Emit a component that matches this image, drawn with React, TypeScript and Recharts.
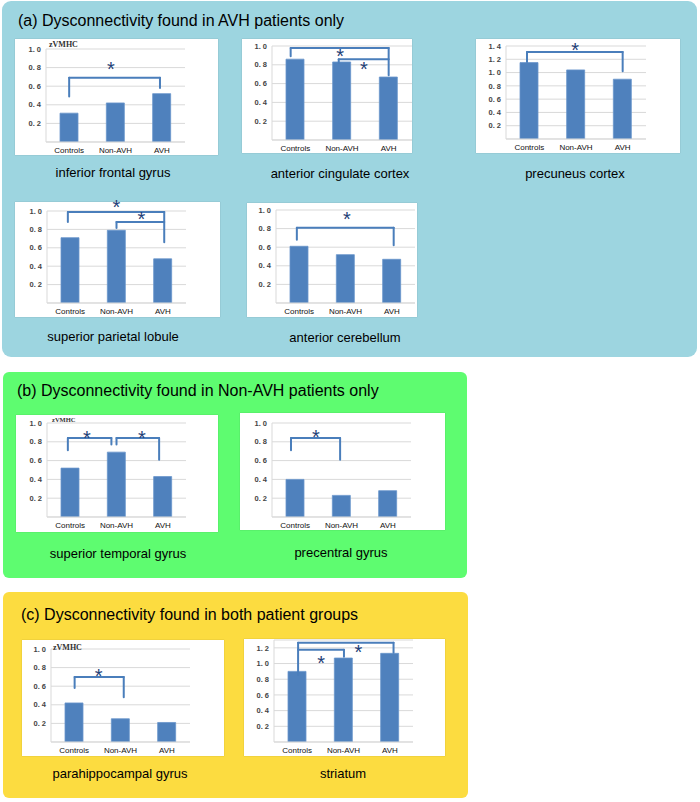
import React from 'react';
import { BarChart, Bar, XAxis, YAxis, CartesianGrid, ReferenceLine, ReferenceDot } from 'recharts';

const GROUPS = ['Controls', 'Non-AVH', 'AVH'];
const GROUP_INDEX = [0, 1, 2];
const TICKS_10 = [0.2, 0.4, 0.6, 0.8, 1.0];
const TICKS_12 = [0.2, 0.4, 0.6, 0.8, 1.0, 1.2];
const TICKS_14 = [0.2, 0.4, 0.6, 0.8, 1.0, 1.2, 1.4];

// values: Controls, Non-AVH, AVH
const ifgValues = [0.31, 0.42, 0.52];
const accValues = [0.86, 0.83, 0.67];
const precuneusValues = [1.15, 1.04, 0.9];
const splValues = [0.71, 0.79, 0.48];
const cerebellumValues = [0.61, 0.52, 0.47];
const stgValues = [0.52, 0.69, 0.43];
const precentralValues = [0.4, 0.23, 0.28];
const parahippoValues = [0.42, 0.25, 0.21];
const striatumValues = [0.9, 1.07, 1.13];

// significance brackets (x in group index units, y in zVMHC units)
const ifgBrackets = [{ y: 0.69, x1: 0, x2: 1.96, leg1: 0.49, leg2: 0.58 }];
const ifgStars = [{ x: 0.9, y: 0.83 }];
const accBrackets = [
  { y: 0.98, x1: -0.1, x2: 2, leg1: 0.89, leg2: 0.69 },
  { y: 0.86, x1: 0.93, x2: 2, leg1: 0.82 },
];
const accStars = [{ x: 0.96, y: 0.94 }, { x: 1.47, y: 0.8 }];
const precuneusBrackets = [{ y: 1.31, x1: -0.05, x2: 2.0, leg1: 1.16, leg2: 1.02 }];
const precuneusStars = [{ x: 0.98, y: 1.415 }];
const splBrackets = [
  { y: 0.99, x1: -0.05, x2: 2.03, leg1: 0.88, leg2: 0.66 },
  { y: 0.88, x1: 1.0, x2: 2.03, leg1: 0.815 },
];
const splStars = [{ x: 1.0, y: 1.09 }, { x: 1.54, y: 0.96 }];
const cerebellumBrackets = [{ y: 0.81, x1: -0.05, x2: 2.04, leg1: 0.68, leg2: 0.62 }];
const cerebellumStars = [{ x: 1.03, y: 0.95 }];
const stgBrackets = [
  { y: 0.84, x1: -0.05, x2: 0.89, leg1: 0.71, leg2: 0.77 },
  { y: 0.84, x1: 1.0, x2: 1.92, leg1: 0.77, leg2: 0.61 },
];
const stgStars = [{ x: 0.36, y: 0.89 }, { x: 1.55, y: 0.89 }];
const precentralBrackets = [{ y: 0.84, x1: -0.09, x2: 0.97, leg1: 0.71, leg2: 0.61 }];
const precentralStars = [{ x: 0.45, y: 0.9 }];
const parahippoBrackets = [{ y: 0.7, x1: 0.01, x2: 1.07, leg1: 0.58, leg2: 0.48 }];
const parahippoStars = [{ x: 0.53, y: 0.76 }];
const striatumBrackets = [
  { y: 1.264, x1: 0.02, x2: 2.08, leg1: 0.855, leg2: 1.137 },
  { y: 1.175, x1: 0.02, x2: 1.01, leg2: 1.085 },
];
const striatumStars = [{ x: 1.32, y: 1.2 }, { x: 0.52, y: 1.07 }];

const FONT = '"Liberation Sans", Arial, Helvetica, sans-serif';
const BAR = '#4f81bd';
const BRACKET = '#4a7ebb';
const STAR = '#1f3f77';
const GRID = '#d9d9d9';

const fmt = (v: number) => v.toFixed(1).replace('.', '. ');

type Bracket = { y: number; x1: number; x2: number; leg1?: number; leg2?: number };
type Star = { x: number; y: number };

function MiniChart(props: {
  values: number[];
  box: [number, number, number, number];
  plotL: number;
  plotR: number;
  top: number;
  base: number;
  domainMax: number;
  ticks: number[];
  brackets: Bracket[];
  stars: Star[];
  zLabel?: { x: number; y: number; size: number };
}) {
  const { values, box, plotL, plotR, top, base, domainMax, ticks, brackets, stars, zLabel } = props;
  const [bx, by, bw, bh] = box;
  const data = GROUPS.map((g, i) => ({ group: g, idx: GROUP_INDEX[i], value: values[i] }));
  const lineProps = {
    xAxisId: 'n',
    stroke: BRACKET,
    strokeWidth: 2,
    strokeLinecap: 'round' as const,
    ifOverflow: 'visible' as const,
  };
  return (
    <div
      style={{
        position: 'absolute',
        left: bx,
        top: by,
        width: bw,
        height: bh,
        background: '#fff',
        boxShadow: '0 0 1px rgba(0,0,0,0.25)',
      }}
    >
      <BarChart
        width={bw}
        height={bh}
        data={data}
        margin={{ top: top - by, right: bx + bw - plotR, bottom: 0, left: 0 }}
        barCategoryGap={0}
      >
        <CartesianGrid vertical={false} stroke={GRID} />
        <XAxis
          dataKey="group"
          height={by + bh - base}
          tickLine={false}
          tickSize={0}
          tickMargin={5}
          interval={0}
          axisLine={{ stroke: GRID }}
          tick={{ fontSize: 8, fill: '#111', fontFamily: FONT }}
        />
        <XAxis xAxisId="n" dataKey="idx" type="number" domain={[-0.5, 2.5]} hide allowDataOverflow />
        <YAxis
          width={plotL - bx}
          domain={[0, domainMax]}
          ticks={ticks}
          interval={0}
          allowDataOverflow
          tickFormatter={fmt}
          tickLine={false}
          tickSize={0}
          tickMargin={5}
          axisLine={{ stroke: GRID }}
          tick={{ fontSize: 7.5, fontWeight: 'bold', fill: '#444', fontFamily: FONT }}
        />
        <Bar dataKey="value" fill={BAR} stroke="#6a96cc" strokeWidth={0.8} barSize={18} isAnimationActive={false} />
        {brackets.map((b, i) => (
          <ReferenceLine key={'h' + i} {...lineProps} segment={[{ x: b.x1, y: b.y }, { x: b.x2, y: b.y }]} />
        ))}
        {brackets
          .filter((b) => b.leg1 !== undefined)
          .map((b, i) => (
            <ReferenceLine key={'l' + i} {...lineProps} segment={[{ x: b.x1, y: b.y }, { x: b.x1, y: b.leg1 as number }]} />
          ))}
        {brackets
          .filter((b) => b.leg2 !== undefined)
          .map((b, i) => (
            <ReferenceLine key={'r' + i} {...lineProps} segment={[{ x: b.x2, y: b.y }, { x: b.x2, y: b.leg2 as number }]} />
          ))}
        {stars.map((s, i) => (
          <ReferenceDot
            key={'s' + i}
            xAxisId="n"
            x={s.x}
            y={s.y}
            r={0}
            ifOverflow="visible"
            shape={(p: any) => (
              <text x={p.cx} y={p.cy + 11.5} textAnchor="middle" fontSize={20} fill={STAR} fontFamily={FONT}>
                *
              </text>
            )}
          />
        ))}
      </BarChart>
      {zLabel && (
        <div
          style={{
            position: 'absolute',
            left: zLabel.x - bx,
            top: zLabel.y - by - zLabel.size * 0.55,
            fontSize: zLabel.size,
            lineHeight: 1,
            fontWeight: 'bold',
            fontFamily: '"Liberation Serif", "Times New Roman", serif',
            color: '#333',
          }}
        >
          zVMHC
        </div>
      )}
    </div>
  );
}

function Caption({ text, cx, cy }: { text: string; cx: number; cy: number }) {
  return (
    <div
      style={{
        position: 'absolute',
        left: cx - 120,
        width: 240,
        top: cy - 7.5,
        textAlign: 'center',
        fontSize: 13,
        lineHeight: 1,
        fontFamily: FONT,
        color: '#000',
        whiteSpace: 'nowrap',
      }}
    >
      {text}
    </div>
  );
}

function Title({ label, text, x, baseline }: { label: string; text: string; x: number; baseline: number }) {
  return (
    <div
      style={{
        position: 'absolute',
        left: x,
        top: baseline - 13.6,
        fontSize: 16,
        lineHeight: 1,
        fontFamily: FONT,
        color: '#000',
        whiteSpace: 'nowrap',
      }}
    >
      {label} {text}
    </div>
  );
}

export default function App() {
  return (
    <div
      style={{
        position: 'absolute',
        left: 0,
        top: 0,
        width: 700,
        height: 802,
        background: '#fff',
        overflow: 'hidden',
        fontFamily: FONT,
      }}
    >
      <style>{'.recharts-surface { overflow: visible; } .recharts-wrapper { overflow: visible; }'}</style>
      {/* Panel (a) */}
      <div style={{ position: 'absolute', left: 2, top: 1, width: 695, height: 356, background: '#9dd5e0', borderRadius: 9 }} />
      {/* Panel (b) */}
      <div style={{ position: 'absolute', left: 3, top: 372, width: 464, height: 206, background: '#5efc70', borderRadius: 6 }} />
      {/* Panel (c) */}
      <div style={{ position: 'absolute', left: 3, top: 592, width: 465, height: 206, background: '#fcdc40', borderRadius: 6 }} />

      <Title label="(a)" text="Dysconnectivity found in AVH patients only" x={18} baseline={27} />
      <Title label="(b)" text="Dysconnectivity found in Non-AVH patients only" x={17} baseline={397} />
      <Title label="(c)" text="Dysconnectivity found in both patient groups" x={21} baseline={621} />

      <MiniChart values={ifgValues} box={[15, 39, 203, 116]} plotL={46} plotR={185} top={49} base={142}
        domainMax={1.0} ticks={TICKS_10} brackets={ifgBrackets} stars={ifgStars} zLabel={{ x: 49, y: 45, size: 8 }} />
      <Caption text="inferior frontal gyrus" cx={113} cy={173} />

      <MiniChart values={accValues} box={[242, 39, 170, 114]} plotL={272} plotR={412} top={46} base={140}
        domainMax={1.0} ticks={TICKS_10} brackets={accBrackets} stars={accStars} />
      <Caption text="anterior cingulate cortex" cx={340} cy={174} />

      <MiniChart values={precuneusValues} box={[476, 39, 204, 114]} plotL={506} plotR={646} top={46} base={139}
        domainMax={1.4} ticks={TICKS_14} brackets={precuneusBrackets} stars={precuneusStars} />
      <Caption text="precuneus cortex" cx={575} cy={174} />

      <MiniChart values={splValues} box={[15, 202, 205, 115]} plotL={47} plotR={186} top={211} base={303}
        domainMax={1.0} ticks={TICKS_10} brackets={splBrackets} stars={splStars} />
      <Caption text="superior parietal lobule" cx={113} cy={337} />

      <MiniChart values={cerebellumValues} box={[247, 203, 170, 114]} plotL={276} plotR={415} top={210} base={303}
        domainMax={1.0} ticks={TICKS_10} brackets={cerebellumBrackets} stars={cerebellumStars} />
      <Caption text="anterior cerebellum" cx={345} cy={338} />

      <MiniChart values={stgValues} box={[16, 415, 202, 117]} plotL={47} plotR={186} top={423} base={517}
        domainMax={1.0} ticks={TICKS_10} brackets={stgBrackets} stars={stgStars} zLabel={{ x: 52, y: 421, size: 6.5 }} />
      <Caption text="superior temporal gyrus" cx={118} cy={554} />

      <MiniChart values={precentralValues} box={[240, 413, 205, 117]} plotL={272} plotR={411} top={423} base={517}
        domainMax={1.0} ticks={TICKS_10} brackets={precentralBrackets} stars={precentralStars} />
      <Caption text="precentral gyrus" cx={341} cy={553} />

      <MiniChart values={parahippoValues} box={[22, 640, 202, 116]} plotL={51} plotR={190} top={649} base={742}
        domainMax={1.0} ticks={TICKS_10} brackets={parahippoBrackets} stars={parahippoStars} zLabel={{ x: 53, y: 648, size: 8 }} />
      <Caption text="parahippocampal gyrus" cx={120} cy={774} />

      <MiniChart values={striatumValues} box={[244, 639, 201, 117]} plotL={274} plotR={413} top={640} base={742}
        domainMax={1.3} ticks={TICKS_12} brackets={striatumBrackets} stars={striatumStars} />
      <Caption text="striatum" cx={343} cy={774} />
    </div>
  );
}
